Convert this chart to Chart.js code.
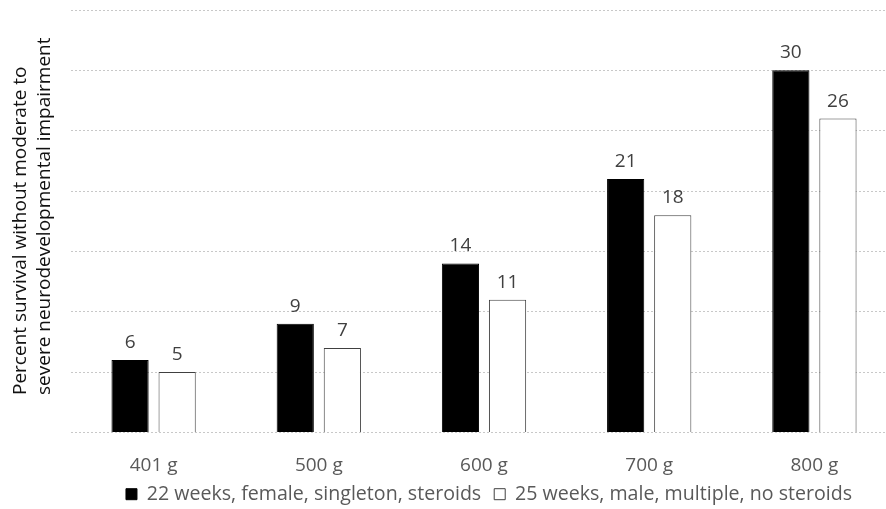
<!DOCTYPE html>
<html lang="en">
<head>
  <meta charset="UTF-8" />
  <title>Survival by birth weight</title>
  <script src="https://cdn.jsdelivr.net/npm/chart.js"></script>
  <style>
    html, body { margin: 0; padding: 0; background: #fff; overflow: hidden; }
    #wrap { width: 897px; height: 509px; }
  </style>
</head>
<body>
  <div id="wrap"><canvas id="grafico"></canvas></div>

  <script>
    const categorias = ['401 g', '500 g', '600 g', '700 g', '800 g'];
    const serie22 = [6, 9, 14, 21, 30];
    const serie25 = [5, 7, 11, 18, 26];
    const nome22 = '22 weeks, female, singleton, steroids';
    const nome25 = '25 weeks, male, multiple, no steroids';
    const tituloY = ['Percent survival without moderate to', 'severe neurodevelopmental impairment'];

    const fonte = "'Open Sans', sans-serif";
    const cinzaTexto = '#595959';

    // rótulos de valor em cima das barras
    const rotulos = {
      id: 'rotulos',
      afterDatasetsDraw(chart) {
        const ctx = chart.ctx;
        ctx.save();
        ctx.font = '19px ' + fonte;
        ctx.fillStyle = '#404040';
        ctx.textAlign = 'center';
        ctx.textBaseline = 'bottom';
        chart.data.datasets.forEach((ds, i) => {
          chart.getDatasetMeta(i).data.forEach((bar, j) => {
            ctx.fillText(ds.data[j], bar.x, bar.y - 8);
          });
        });
        ctx.restore();
      }
    };

    // título do eixo y em duas linhas (alinhado pela base)
    const tituloEixo = {
      id: 'tituloEixo',
      afterDraw(chart) {
        const ctx = chart.ctx;
        ctx.save();
        ctx.font = '19px ' + fonte;
        ctx.fillStyle = '#111';
        ctx.textAlign = 'left';
        ctx.textBaseline = 'middle';
        ctx.translate(0, 395);
        ctx.rotate(-Math.PI / 2);
        ctx.fillText(tituloY[0], 0, 21);
        ctx.fillText(tituloY[1], 0, 45);
        ctx.restore();
      }
    };

    // empurra a legenda um pouco (direita e para cima)
    const moveLegenda = {
      id: 'moveLegenda',
      afterLayout(chart) {
        const lg = chart.legend;
        lg.left += 5; lg.right += 5;
        lg.top -= 11; lg.bottom -= 11;
      }
    };

    new Chart(document.getElementById('grafico'), {
      type: 'bar',
      data: {
        labels: categorias,
        datasets: [
          {
            label: nome22,
            data: serie22,
            backgroundColor: '#000',
            borderColor: '#000',
            borderWidth: 1
          },
          {
            label: nome25,
            data: serie25,
            backgroundColor: '#fff',
            borderColor: '#404040',
            borderWidth: 1
          }
        ]
      },
      options: {
        responsive: true,
        maintainAspectRatio: false,
        animation: false,
        layout: { padding: { left: 71, top: 10, right: 0, bottom: -16 } },
        datasets: { bar: { categoryPercentage: 0.57, barPercentage: 0.79 } },
        scales: {
          x: {
            grid: { display: false },
            border: { display: false },
            ticks: { color: cinzaTexto, font: { family: fonte, size: 19 }, padding: 14 },
            afterFit: s => { s.height = 50; }
          },
          y: {
            min: 0,
            max: 35,
            ticks: { display: false, stepSize: 5 },
            grid: { color: '#c8c8c8', drawTicks: false, lineWidth: 1 },
            border: { display: false, dash: [2, 2] },
            afterFit: s => { s.width = 0; }
          }
        },
        plugins: {
          legend: {
            position: 'bottom',
            labels: {
              color: cinzaTexto,
              font: { family: fonte, size: 19.6 },
              boxWidth: 11,
              boxHeight: 11,
              padding: 13
            }
          },
          tooltip: { enabled: false }
        }
      },
      plugins: [rotulos, tituloEixo, moveLegenda]
    });
  </script>
</body>
</html>
